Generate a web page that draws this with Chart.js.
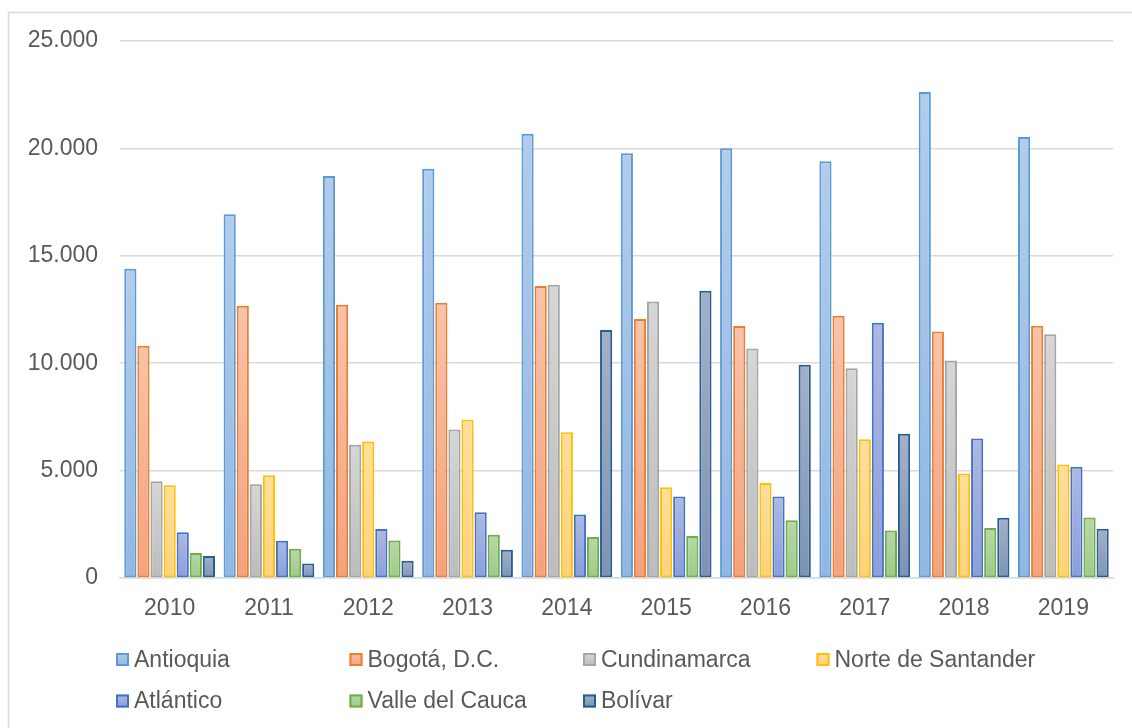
<!DOCTYPE html>
<html>
<head>
<meta charset="utf-8">
<script src="https://cdn.jsdelivr.net/npm/chart.js@4.4.1/dist/chart.umd.min.js"></script>
<style>
  html, body { margin: 0; padding: 0; background: #ffffff; }
  #wrap { width: 1132px; height: 728px; position: relative; }
</style>
</head>
<body>
<div id="wrap"><canvas id="c" width="1132" height="728"></canvas></div>
<script>
// Categories (years)
const years = ['2010', '2011', '2012', '2013', '2014', '2015', '2016', '2017', '2018', '2019'];

// Series values per department
const antioquia      = [14400, 16930, 18720, 19050, 20680, 19780, 20010, 19400, 22620, 20530];
const bogota         = [10810, 12670, 12720, 12810, 13590, 12060, 11730, 12210, 11480, 11740];
const cundinamarca   = [4500, 4370, 6200, 6910, 13650, 12870, 10680, 9770, 10130, 11350];
const norteSantander = [4320, 4780, 6360, 7380, 6780, 4220, 4420, 6460, 4870, 5280];
const atlantico      = [2130, 1730, 2280, 3060, 2960, 3790, 3790, 11880, 6500, 5180];
const valleCauca     = [1160, 1360, 1740, 2010, 1910, 1960, 2690, 2210, 2330, 2820];
const bolivar        = [1030, 680, 800, 1310, 11540, 13370, 9930, 6710, 2810, 2290];

// Series names
const seriesNames = ['Antioquia', 'Bogotá, D.C.', 'Cundinamarca', 'Norte de Santander',
                     'Atlántico', 'Valle del Cauca', 'Bolívar'];

// Value axis ticks
const yTicks = [0, 5000, 10000, 15000, 20000, 25000];

// Style: border colour, gradient top, gradient bottom
const palette = [
  ['#5b9bd5', '#b2cdeb', '#92b6e2'],
  ['#ed7d31', '#f8c3a9', '#f4a27d'],
  ['#a5a5a5', '#d6d6d6', '#bcbcbc'],
  ['#ffc000', '#ffdf9c', '#ffd17c'],
  ['#4472c4', '#adb9e2', '#8a9ed9'],
  ['#70ad47', '#b7d8a8', '#9fc98a'],
  ['#255e91', '#a4b0c8', '#7e93b5']
];

const FONT = '"Liberation Sans", Arial, sans-serif';
const TEXT = '#595959';

function formatThousands(v) {
  return String(Math.round(v)).replace(/\B(?=(\d{3})+(?!\d))/g, '.');
}

function barFill(idx) {
  return function (ctx) {
    const top = palette[idx][1], bottom = palette[idx][2];
    if (ctx.type !== 'data') return top;
    const chart = ctx.chart;
    const ys = chart.scales && chart.scales.y;
    if (!ys || !chart.chartArea) return top;
    const yTop = ys.getPixelForValue(ctx.raw);
    const yBase = ys.getPixelForValue(0);
    if (!isFinite(yTop) || !isFinite(yBase) || yBase - yTop < 1) return top;
    const g = chart.ctx.createLinearGradient(0, yTop, 0, yBase);
    g.addColorStop(0, top);
    g.addColorStop(1, bottom);
    return g;
  };
}

const seriesValues = [antioquia, bogota, cundinamarca, norteSantander, atlantico, valleCauca, bolivar];

const datasets = seriesValues.map((vals, i) => ({
  label: seriesNames[i],
  data: vals,
  backgroundColor: barFill(i),
  borderColor: palette[i][0],
  borderWidth: 2,
  borderSkipped: false,
  categoryPercentage: 0.923,
  barPercentage: 0.93
}));

// Outer frame of the chart
const framePlugin = {
  id: 'frame',
  beforeDraw(chart) {
    const c = chart.ctx;
    c.save();
    c.fillStyle = '#ffffff';
    c.fillRect(0, 0, chart.width, chart.height);
    c.strokeStyle = '#d9d9d9';
    c.lineWidth = 1.5;
    c.strokeRect(8.5, 12.5, chart.width + 20, chart.height + 20);
    c.restore();
  }
};

// Legend laid out as a fixed grid of columns under the axis
const gridLegend = {
  id: 'gridLegend',
  afterDraw(chart) {
    const c = chart.ctx;
    const colX = 116, colStep = 233.5;
    const rowY = [659.5, 701];
    const perRow = 4, box = 13;
    c.save();
    c.font = '23px ' + FONT;
    c.textBaseline = 'middle';
    c.textAlign = 'left';
    chart.data.datasets.forEach((ds, i) => {
      const x = colX + (i % perRow) * colStep;
      const y = rowY[Math.floor(i / perRow)];
      const g = c.createLinearGradient(0, y - box / 2, 0, y + box / 2);
      g.addColorStop(0, palette[i][1]);
      g.addColorStop(1, palette[i][2]);
      c.fillStyle = g;
      c.fillRect(x, y - box / 2, box, box);
      c.strokeStyle = palette[i][0];
      c.lineWidth = 2;
      c.strokeRect(x + 1, y - box / 2 + 1, box - 2, box - 2);
      c.fillStyle = TEXT;
      c.fillText(ds.label, x + 18, y + 1);
    });
    c.restore();
  }
};

new Chart(document.getElementById('c'), {
  type: 'bar',
  data: { labels: years, datasets },
  options: {
    responsive: false,
    animation: false,
    layout: { padding: { left: 0, right: 19, top: 41, bottom: 0 } },
    plugins: {
      legend: { display: false },
      tooltip: { enabled: false }
    },
    scales: {
      x: {
        grid: { display: false, drawTicks: false },
        border: { display: true, color: '#d9d9d9', width: 1.5 },
        ticks: { color: TEXT, font: { family: FONT, size: 23 }, padding: 17, maxRotation: 0 },
        afterFit(s) { s.height = 150; }
      },
      y: {
        min: 0,
        max: 25000,
        afterBuildTicks(s) { s.ticks = yTicks.map(v => ({ value: v })); },
        grid: { color: '#d9d9d9', lineWidth: 1.5, drawTicks: false },
        border: { display: false },
        ticks: {
          color: TEXT,
          font: { family: FONT, size: 23 },
          padding: 22,
          callback: v => formatThousands(v)
        },
        afterFit(s) { s.width = 120; }
      }
    }
  },
  plugins: [framePlugin, gridLegend]
});
</script>
</body>
</html>
